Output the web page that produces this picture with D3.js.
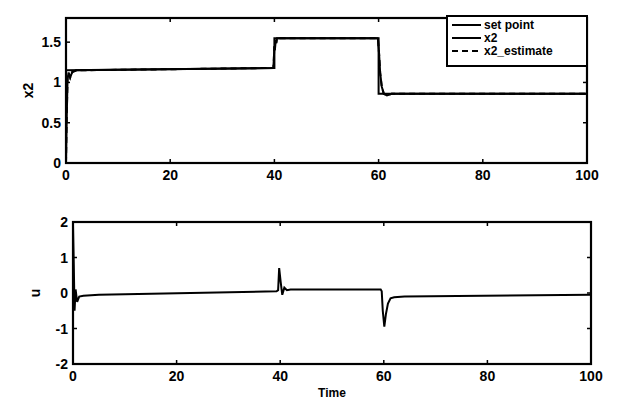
<!DOCTYPE html>
<html>
<head>
<meta charset="utf-8">
<script src="https://cdn.jsdelivr.net/npm/d3@7"></script>
<style>
  body { margin: 0; background: #fff; }
  text { font-family: "Liberation Sans", Arial, sans-serif; font-weight: bold; fill: #000; }
</style>
</head>
<body>
<div id="chart"></div>
<script>
// ─── DATA ───────────────────────────────────────────────
const setTime  = [0, 0, 40, 40, 60, 60, 100]
const setPoint = [0, 1.15, 1.18, 1.55, 1.55, 0.86, 0.86]

const x2Time = [0, 0.15, 0.3, 0.5, 0.8, 1.2, 2, 39.8, 39.9, 40, 40.1, 40.2, 40.35, 40.5, 41, 59.8, 59.9, 60.1, 60.3, 60.6, 61, 61.6, 62.5, 100]
const x2Val  = [0, 0.6, 1.05, 1.12, 1.06, 1.13, 1.15, 1.18, 1.3, 1.45, 1.4, 1.53, 1.49, 1.55, 1.55, 1.55, 1.52, 1.35, 1.12, 0.95, 0.86, 0.84, 0.86, 0.86]

const estTime = x2Time
const estVal  = x2Val

const uTime = [0, 0.15, 0.3, 0.5, 0.8, 1.2, 2, 5, 39.3, 39.6, 39.8, 40.1, 40.4, 40.8, 41.3, 42, 59.4, 59.6, 59.8, 60.1, 60.4, 60.8, 61.3, 62, 64, 100]
const uVal  = [1.9, 0.8, -0.5, 0.1, -0.25, -0.1, -0.08, -0.05, 0.05, 0.08, 0.7, 0.3, -0.05, 0.15, 0.08, 0.1, 0.1, 0.05, -0.5, -0.95, -0.6, -0.3, -0.15, -0.12, -0.1, -0.05]

const xTicks = [0, 20, 40, 60, 80, 100]
const x2Ticks = [0, 0.5, 1, 1.5]
const uTicks = [-2, -1, 0, 1, 2]

// ─── SVG ───────────────────────────────────────────────
const svg = d3.select('#chart').append('svg')
  .attr('width', 625)
  .attr('height', 403)

function panel(box, yDomain, yTicks, yLabel) {
  const x = d3.scaleLinear().domain([0, 100]).range([box.left, box.right])
  const y = d3.scaleLinear().domain(yDomain).range([box.bottom, box.top])
  const g = svg.append('g')

  // ticks inward on all four sides
  xTicks.forEach(t => {
    g.append('line').attr('x1', x(t)).attr('x2', x(t))
      .attr('y1', box.bottom).attr('y2', box.bottom - 4)
      .attr('stroke', '#000').attr('stroke-width', 1.5)
    g.append('line').attr('x1', x(t)).attr('x2', x(t))
      .attr('y1', box.top).attr('y2', box.top + 4)
      .attr('stroke', '#000').attr('stroke-width', 1.5)
    g.append('text')
      .attr('x', x(t)).attr('y', box.bottom + 17)
      .attr('text-anchor', 'middle').attr('font-size', 14)
      .text(t)
  })
  yTicks.forEach(t => {
    g.append('line').attr('x1', box.left).attr('x2', box.left + 4)
      .attr('y1', y(t)).attr('y2', y(t))
      .attr('stroke', '#000').attr('stroke-width', 1.5)
    g.append('line').attr('x1', box.right).attr('x2', box.right - 4)
      .attr('y1', y(t)).attr('y2', y(t))
      .attr('stroke', '#000').attr('stroke-width', 1.5)
    g.append('text')
      .attr('x', box.left - 5).attr('y', y(t) + 5)
      .attr('text-anchor', 'end').attr('font-size', 14)
      .text(t)
  })

  g.append('rect')
    .attr('x', box.left).attr('y', box.top)
    .attr('width', box.right - box.left).attr('height', box.bottom - box.top)
    .attr('fill', 'none').attr('stroke', '#000').attr('stroke-width', 2.2)

  g.append('text')
    .attr('transform', `translate(${box.left - 33}, ${(box.top + box.bottom) / 2}) rotate(-90)`)
    .attr('text-anchor', 'middle').attr('font-size', 14)
    .text(yLabel)

  return { x, y, g }
}

function drawLine(p, ts, vs, dash) {
  const pts = ts.map((t, i) => [t, vs[i]])
  p.g.append('path')
    .datum(pts)
    .attr('fill', 'none')
    .attr('stroke', '#000')
    .attr('stroke-width', 2)
    .attr('stroke-dasharray', dash || null)
    .attr('d', d3.line().x(d => p.x(d[0])).y(d => p.y(d[1])))
}

// TOP: x2
const topPanel = panel({ left: 66, right: 587, top: 18, bottom: 163 }, [0, 1.8], x2Ticks, 'x2')
drawLine(topPanel, setTime, setPoint)
drawLine(topPanel, x2Time, x2Val)
drawLine(topPanel, estTime, estVal, '6,4')

// LEGEND
const leg = topPanel.g.append('g')
leg.append('rect')
  .attr('x', 447).attr('y', 16).attr('width', 140).attr('height', 50)
  .attr('fill', '#fff').attr('stroke', '#000').attr('stroke-width', 2)
const legItems = [
  { label: 'set point', dash: null, y: 25 },
  { label: 'x2', dash: null, y: 38 },
  { label: 'x2_estimate', dash: '6,4', y: 51 }
]
legItems.forEach(d => {
  leg.append('line')
    .attr('x1', 452).attr('x2', 481).attr('y1', d.y).attr('y2', d.y)
    .attr('stroke', '#000').attr('stroke-width', 2)
    .attr('stroke-dasharray', d.dash)
  leg.append('text')
    .attr('x', 484).attr('y', d.y + 4)
    .attr('font-size', 12)
    .text(d.label)
})

// BOTTOM: u
const botPanel = panel({ left: 73, right: 591, top: 222, bottom: 364 }, [-2, 2], uTicks, 'u')
drawLine(botPanel, uTime, uVal)

botPanel.g.append('text')
  .attr('x', 332).attr('y', 397)
  .attr('text-anchor', 'middle').attr('font-size', 12)
  .text('Time')
</script>
</body>
</html>
